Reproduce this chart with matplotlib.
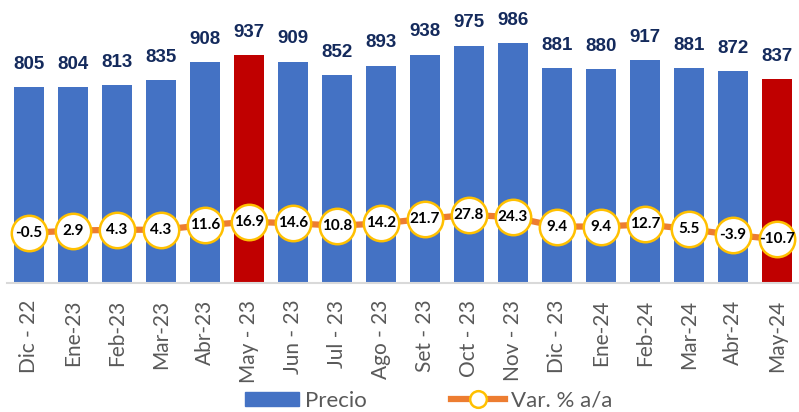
import matplotlib
matplotlib.use("Agg")
import matplotlib.pyplot as plt
from matplotlib.lines import Line2D
from matplotlib.patches import Patch


# ==========================================
# Data
# ==========================================

months = [
    "Dic - 22", "Ene-23", "Feb-23", "Mar-23", "Abr-23", "May - 23",
    "Jun - 23", "Jul - 23", "Ago - 23", "Set - 23", "Oct - 23", "Nov - 23",
    "Dic - 23", "Ene-24", "Feb-24", "Mar-24", "Abr-24", "May-24"
]

precio = [805, 804, 813, 835, 908, 937, 909, 852, 893, 938, 975, 986,
          881, 880, 917, 881, 872, 837]

var_pct = [-0.5, 2.9, 4.3, 4.3, 11.6, 16.9, 14.6, 10.8, 14.2, 21.7, 27.8, 24.3,
           9.4, 9.4, 12.7, 5.5, -3.9, -10.7]

highlight = ["May - 23", "May-24"]


# ==========================================
# Colors
# ==========================================

blue = "#4472C4"
red = "#C00000"
navy = "#142A5C"
orange = "#ED7D31"
gold = "#FFC000"
gray = "#595959"

W, H = 799, 412

fig = plt.figure(figsize=(W / 100, H / 100), dpi=100)

ax = fig.add_axes([7 / W, (H - 283) / H, 792 / W, 283 / H])

x = list(range(len(months)))
colors = [red if m in highlight else blue for m in months]

ax.bar(x, precio, width=0.68, color=colors, zorder=2)

for xi, v in zip(x, precio):
    ax.text(xi, v + 58, str(v), ha="center", va="bottom",
            fontsize=13.5, fontweight="bold", color=navy,
            family="Liberation Sans")

ax.set_xlim(-0.5, len(months) - 0.5)
ax.set_ylim(0, 1162)
ax.set_yticks([])
ax.set_xticks(x)
ax.set_xticklabels(months, rotation=90, fontsize=15, color=gray,
                   family="Lato")
ax.tick_params(axis="x", length=0, pad=12)

for s in ["top", "right", "left"]:
    ax.spines[s].set_visible(False)
ax.spines["bottom"].set_color("#D9D9D9")
ax.spines["bottom"].set_linewidth(1.5)


# ==========================================
# Secondary axis: variation line
# ==========================================

ax2 = ax.twinx()
ax2.set_ylim(-80, 368)
ax2.set_yticks([])
for s in ax2.spines.values():
    s.set_visible(False)

ax2.plot(x, var_pct, color=orange, linewidth=4.5, zorder=3)
ax2.plot(x, var_pct, linestyle="none", marker="o", markersize=25.5,
         markerfacecolor="white", markeredgecolor=gold,
         markeredgewidth=1.8, zorder=4)

for xi, v in zip(x, var_pct):
    ax2.text(xi, v, f"{v:.1f}", ha="center", va="center",
             fontsize=11, fontweight="bold", color="black",
             family="Lato", zorder=5)


# ==========================================
# Legend
# ==========================================

handles = [
    Patch(facecolor=blue, edgecolor=blue),
    Line2D([0], [0], color=orange, linewidth=4.5, marker="o",
           markersize=12, markerfacecolor="white", markeredgecolor=gold,
           markeredgewidth=1.8),
]

fig.legend(handles, ["Precio", "Var. % a/a"], loc="center",
           bbox_to_anchor=(0.537, 0.027), ncol=2, frameon=False,
           prop={"family": "Lato", "size": 16}, labelcolor=gray,
           handlelength=2.4, handleheight=0.6, handletextpad=0.3,
           columnspacing=3.8, borderpad=0)

fig.savefig("out.png", dpi=100)
